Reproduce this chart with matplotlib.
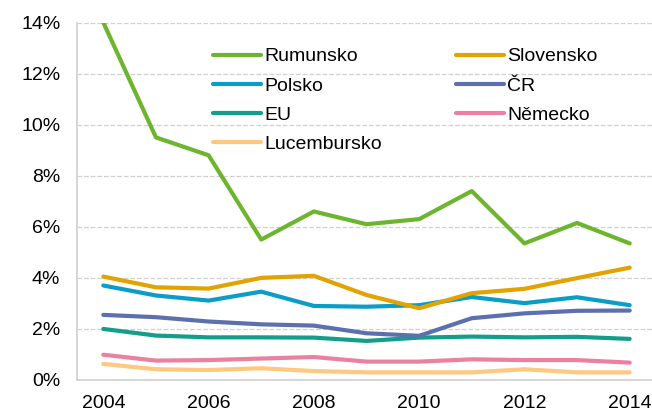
import matplotlib.pyplot as plt
from matplotlib.ticker import FuncFormatter

plt.rcParams['font.family'] = ['Liberation Sans', 'DejaVu Sans']

years = [2004, 2005, 2006, 2007, 2008, 2009, 2010, 2011, 2012, 2013, 2014]

rumunsko = [14.0, 9.5, 8.8, 5.5, 6.6, 6.1, 6.3, 7.4, 5.35, 6.15, 5.35]
slovensko = [4.05, 3.63, 3.58, 4.0, 4.08, 3.33, 2.81, 3.4, 3.57, 3.99, 4.4]
polsko = [3.7, 3.31, 3.11, 3.46, 2.9, 2.87, 2.93, 3.25, 3.01, 3.24, 2.93]
cr = [2.55, 2.46, 2.29, 2.18, 2.13, 1.83, 1.73, 2.42, 2.61, 2.71, 2.72]
eu = [2.0, 1.74, 1.67, 1.67, 1.66, 1.53, 1.66, 1.7, 1.67, 1.69, 1.61]
nemecko = [0.99, 0.76, 0.78, 0.84, 0.9, 0.72, 0.72, 0.81, 0.78, 0.78, 0.68]
lucembursko = [0.63, 0.42, 0.39, 0.46, 0.35, 0.3, 0.3, 0.3, 0.42, 0.3, 0.3]

# legend order follows the original (row-wise, two columns)
series = [
    ('Rumunsko', rumunsko, '#6DB52E'),
    ('Polsko', polsko, '#0A9DC8'),
    ('EU', eu, '#139E8A'),
    ('Lucembursko', lucembursko, '#FFC880'),
    ('Slovensko', slovensko, '#E2A200'),
    ('ČR', cr, '#5C70AE'),
    ('Německo', nemecko, '#EC80A0'),
]

fig = plt.figure(figsize=(6.52, 4.12), dpi=100)
ax = fig.add_axes([77 / 652, 32 / 412, 579 / 652, 357.5 / 412])

for name, vals, col in series:
    ax.plot(years, vals, color=col, lw=3, label=name, solid_capstyle='round')

ax.set_xlim(2003.5, 2014.5)
ax.set_ylim(0, 14)
ax.set_yticks(range(0, 15, 2))
ax.set_xticks(range(2004, 2015, 2))
ax.yaxis.set_major_formatter(FuncFormatter(lambda v, p: '%d%%' % v))
ax.tick_params(axis='both', length=0, labelsize=14)
ax.tick_params(axis='y', pad=12)
ax.tick_params(axis='x', pad=11)

ax.grid(axis='y', color='#D0D0D0', ls='--', lw=0.9)
ax.set_axisbelow(True)
for s in ['top', 'right']:
    ax.spines[s].set_visible(False)
for s in ['left', 'bottom']:
    ax.spines[s].set_color('#D0D0D0')
    ax.spines[s].set_linewidth(1.2)

ax.legend(ncol=2, frameon=False, fontsize=14, loc='upper left',
          bbox_to_anchor=(205 / 652, 1 - 40 / 412), bbox_transform=fig.transFigure,
          handlelength=2.5, handletextpad=0.15, columnspacing=3.8,
          labelspacing=0.6, borderaxespad=0)

fig.savefig('out.png', dpi=100)
